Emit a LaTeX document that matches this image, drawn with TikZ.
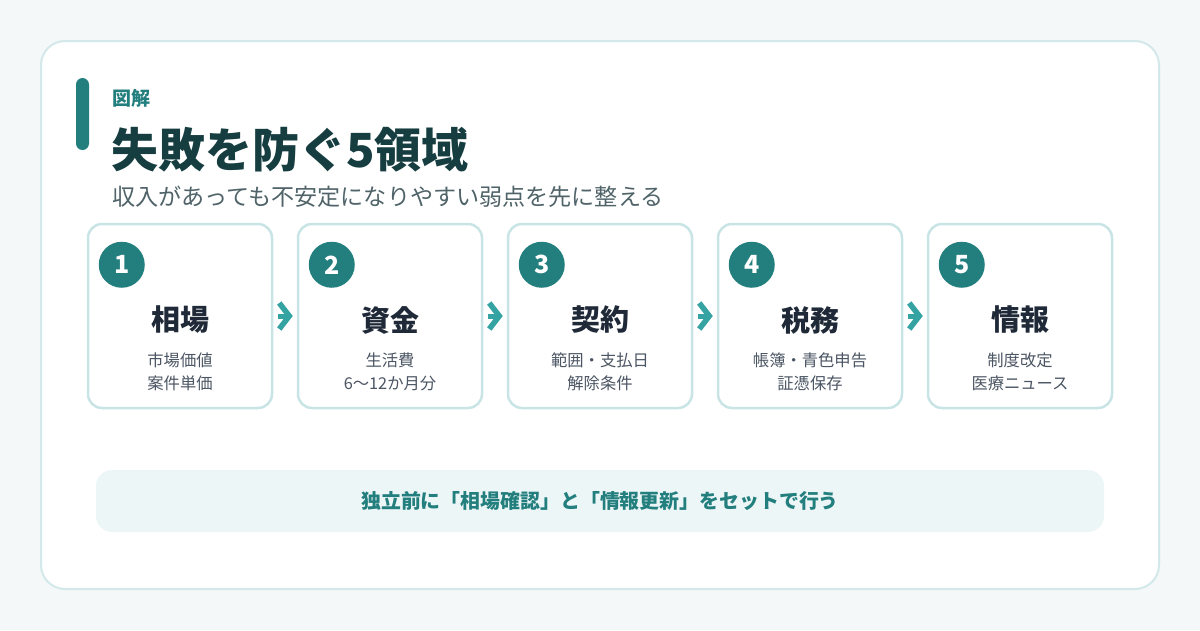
\documentclass[tikz,border=0pt]{standalone}
\usepackage{fontspec}
\setmainfont{Noto Sans CJK JP}
\usepackage{xcolor}
\usetikzlibrary{arrows.meta,positioning,calc}
\definecolor{bgpage}{HTML}{F4F8F9}
\definecolor{cardline}{HTML}{D3E8E8}
\definecolor{tealdark}{HTML}{237E7E}
\definecolor{tealmid}{HTML}{36A3A3}
\definecolor{titleink}{HTML}{163D40}
\definecolor{subink}{HTML}{4F6368}
\definecolor{boxline}{HTML}{C8E4E4}
\definecolor{headink}{HTML}{1F2937}
\definecolor{noteink}{HTML}{4B5563}
\definecolor{bandfill}{HTML}{EDF6F7}
\tikzset{
  areabox/.style ={rectangle, rounded corners=14pt, draw=boxline, line width=2.5pt,
                   fill=white, minimum width=184pt, minimum height=184pt},
  numdot/.style  ={circle, fill=tealdark, minimum size=46pt, inner sep=0pt,
                   text=white, font=\fontsize{25}{25}\selectfont\bfseries},
  areahead/.style={font=\fontsize{29}{29}\selectfont\bfseries, text=headink, inner sep=0pt},
  areanote/.style={font=\fontsize{16.3}{23}\selectfont, text=noteink, align=center, inner sep=0pt},
  flow/.style    ={-{Straight Barb[length=10pt,width=26pt,line width=5.5pt]}, line width=5pt,
                   draw=tealmid, shorten >=4pt, shorten <=5pt}
}
\begin{document}
\begin{tikzpicture}[x=1pt, y=-1pt, node distance=23.5pt]
  \useasboundingbox (0,0) rectangle (1200,630);
  \fill[bgpage] (0,0) rectangle (1200,630);
  \draw[cardline, line width=2pt, fill=white, rounded corners=24pt] (41,41) rectangle (1159,589);

  % heading block
  \fill[tealdark, rounded corners=6.5pt] (76,78) rectangle (89,150);
  \node[anchor=west, inner sep=0pt, text=tealdark, font=\fontsize{19}{19}\selectfont\bfseries] (kicker) at (112,98) {図解};
  \node[anchor=west, inner sep=0pt, text=titleink, font=\fontsize{47}{47}\selectfont\bfseries] (title) at (111,150) {失敗を防ぐ5領域};
  \node[anchor=west, inner sep=0pt, text=subink, font=\fontsize{23.1}{23.1}\selectfont] (lead) at (112,197) {収入があっても不安定になりやすい弱点を先に整える};

  % five areas
  \node[areabox] (soba) at (180,316) {};
  \node[areabox, right=of soba] (shikin) {};
  \node[areabox, right=of shikin] (keiyaku) {};
  \node[areabox, right=of keiyaku] (zeimu) {};
  \node[areabox, right=of zeimu] (joho) {};

  \foreach \b/\n/\h/\t in {soba/1/相場/{市場価値\\案件単価},
                           shikin/2/資金/{生活費\\6〜12か月分},
                           keiyaku/3/契約/{範囲・支払日\\解除条件},
                           zeimu/4/税務/{帳簿・青色申告\\証憑保存},
                           joho/5/情報/{制度改定\\医療ニュース}} {
    \node[numdot] (\b-num) at ($(\b.north west)+(35,42)$) {\n};
    \node[areahead] (\b-head) at ($(\b.center)+(0,4)$) {\h};
    \node[areanote] (\b-note) at ($(\b.center)+(0,56)$) {\t};
  }

  \draw[flow] (soba)--(shikin);   \draw[flow] (shikin)--(keiyaku);
  \draw[flow] (keiyaku)--(zeimu); \draw[flow] (zeimu)--(joho);

  % bottom band
  \node[fill=bandfill, rounded corners=16pt, minimum width=1008pt, minimum height=62pt,
        text=tealdark, font=\fontsize{19.9}{19.9}\selectfont\bfseries] (band) at (600,501)
        {独立前に「相場確認」と「情報更新」をセットで行う};
\end{tikzpicture}
\end{document}
